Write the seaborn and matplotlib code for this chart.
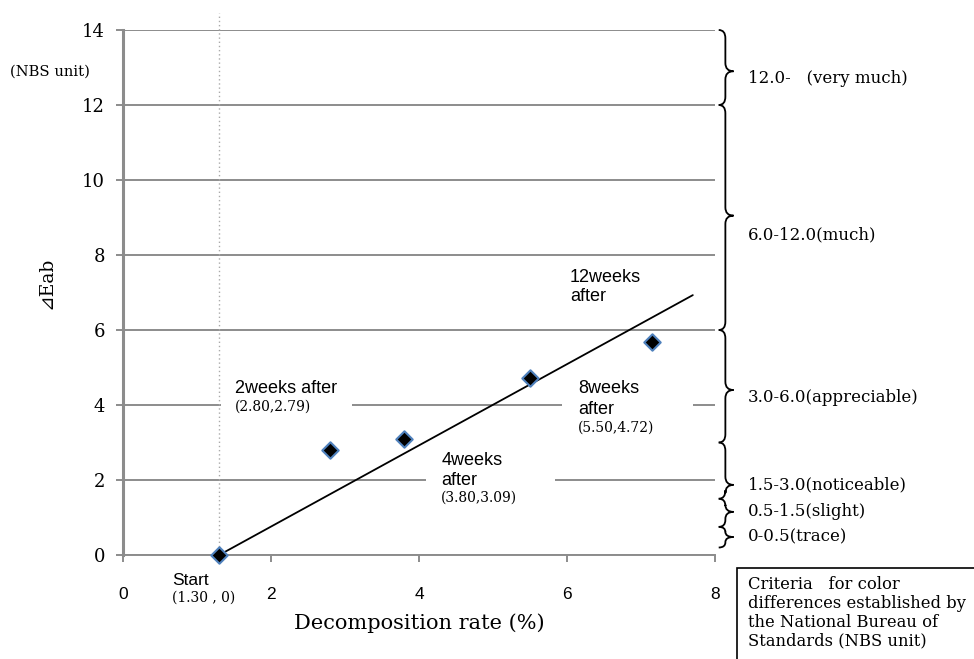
import numpy as np
import pandas as pd
import matplotlib
matplotlib.use("Agg")
import matplotlib.pyplot as plt
import seaborn as sns
from matplotlib.path import Path
from matplotlib.patches import PathPatch, Rectangle

# data
decomp_rate = [1.30, 2.80, 3.80, 5.50, 7.15]
delta_eab = [0.00, 2.79, 3.09, 4.72, 5.68]
trend_x = [1.30, 7.70]
trend_y = [0.00, 6.93]
y_ticks = [0, 2, 4, 6, 8, 10, 12, 14]
x_ticks = [0, 2, 4, 6, 8]

# NBS criteria braces: (low, high, tip, label)
nbs_low = [12.0, 6.0, 3.0, 1.5, 0.75, 0.2]
nbs_high = [14.0, 12.0, 6.0, 3.0, 1.5, 0.75]
nbs_tip = [12.9, 9.05, 4.4, 1.87, 1.15, 0.48]
nbs_labels = ["12.0-   (very much)", "6.0-12.0(much)", "3.0-6.0(appreciable)",
              "1.5-3.0(noticeable)", "0.5-1.5(slight)", "0-0.5(trace)"]
nbs_text_y = [12.7, 8.53, 4.21, 1.87, 1.15, 0.48]

SERIF = ["DejaVu Serif", "DejaVu Sans"]
SANS = ["Liberation Sans", "DejaVu Sans"]
GRID = "#8c8c8c"

sns.set_theme(style="white")
plt.rcParams["font.family"] = SANS
plt.rcParams["text.color"] = "black"
plt.rcParams["axes.labelcolor"] = "black"

df = pd.DataFrame({"rate": decomp_rate, "eab": delta_eab})
trend = pd.DataFrame({"rate": trend_x, "eab": trend_y})

fig = plt.figure(figsize=(9.74, 6.59), dpi=100)
ax = fig.add_axes([0.1263, 0.1578, 0.6078, 0.7967])
ax.set_axisbelow(True)

sns.lineplot(data=trend, x="rate", y="eab", color="black", lw=1.3, ax=ax, zorder=3)
sns.scatterplot(data=df, x="rate", y="eab", marker="D", s=70, color="black",
                edgecolor="#4f81bd", linewidth=1.5, ax=ax, zorder=4, clip_on=False)

ax.set_xlim(0, 8)
ax.set_ylim(0, 14)
ax.set_yticks(y_ticks)
ax.set_xticks(x_ticks)
ax.yaxis.grid(True, color=GRID, lw=1.4)
ax.xaxis.grid(False)
for s in ["top", "right"]:
    ax.spines[s].set_visible(False)
ax.spines["left"].set_color(GRID)
ax.spines["left"].set_linewidth(2.2)
ax.spines["bottom"].set_color(GRID)
ax.spines["bottom"].set_linewidth(1.4)
ax.tick_params(axis="y", direction="out", length=5, width=1.4, color=GRID, pad=8,
               left=True, labelcolor="black")
ax.tick_params(axis="x", direction="out", length=5, width=1.4, color=GRID, pad=18,
               bottom=True, labelcolor="black")
for lab in ax.get_yticklabels():
    lab.set_fontfamily(SERIF)
    lab.set_fontsize(13)
for lab in ax.get_xticklabels():
    lab.set_fontfamily(SANS)
    lab.set_fontsize(12.5)

ax.set_ylabel("⊿Eab", family=SERIF, fontsize=13.5)
ax.yaxis.set_label_coords(-0.115, 0.518)
ax.set_xlabel("Decomposition rate (%)", family=SERIF, fontsize=15, labelpad=8)

# dotted line at the start point
ax.plot([decomp_rate[0], decomp_rate[0]], [0, 14.45], ls=(0, (1, 2)), color="#aaaaaa",
        lw=1, clip_on=False, zorder=1)

# white boxes hiding gridlines behind the labels
for (x0, x1, y0, y1) in [(1.33, 3.09, 3.6, 4.8), (4.09, 5.84, 1.2, 2.93), (5.93, 7.70, 3.1, 4.8)]:
    ax.add_patch(Rectangle((x0, y0), x1 - x0, y1 - y0, facecolor="white",
                           edgecolor="none", zorder=2))

ax.text(1.51, 4.45, "2weeks after", fontsize=13, va="center", zorder=5)
ax.text(1.51, 3.95, "(2.80,2.79)", family=SERIF, fontsize=10, va="center", zorder=5)
ax.text(4.30, 2.51, "4weeks", fontsize=13, va="center", zorder=5)
ax.text(4.30, 2.00, "after", fontsize=13, va="center", zorder=5)
ax.text(4.30, 1.52, "(3.80,3.09)", family=SERIF, fontsize=10, va="center", zorder=5)
ax.text(6.15, 4.45, "8weeks", fontsize=13, va="center", zorder=5)
ax.text(6.15, 3.89, "after", fontsize=13, va="center", zorder=5)
ax.text(6.15, 3.39, "(5.50,4.72)", family=SERIF, fontsize=10, va="center", zorder=5)
ax.text(6.04, 7.41, "12weeks", fontsize=13, va="center", zorder=5)
ax.text(6.04, 6.88, "after", fontsize=13, va="center", zorder=5)
ax.text(0.66, -0.67, "Start", fontsize=12.5, va="center", clip_on=False)
ax.text(0.66, -1.15, "(1.30 , 0)", family=SERIF, fontsize=10, va="center", clip_on=False)
ax.text(-1.53, 12.88, "(NBS unit)", family=SERIF, fontsize=10.6, va="center", clip_on=False)


def brace(y0, y1, ytip, xh=8.05, xv=8.14, xt=8.25):
    d = min(0.22, (y1 - y0) / 4)
    verts = [(xh, y0), (xv, y0), (xv, y0 + d),
             (xv, ytip - d), (xv, ytip), (xt, ytip),
             (xv, ytip), (xv, ytip + d),
             (xv, y1 - d), (xv, y1), (xh, y1)]
    codes = [Path.MOVETO, Path.CURVE3, Path.CURVE3,
             Path.LINETO, Path.CURVE3, Path.CURVE3,
             Path.CURVE3, Path.CURVE3,
             Path.LINETO, Path.CURVE3, Path.CURVE3]
    ax.add_patch(PathPatch(Path(verts, codes), fill=False, lw=1.3, edgecolor="black",
                           clip_on=False))


for lo, hi, tip, lab, ty in zip(nbs_low, nbs_high, nbs_tip, nbs_labels, nbs_text_y):
    brace(lo, hi, tip)
    ax.text(8.44, ty, lab, family=SERIF, fontsize=12, va="center", clip_on=False)

# criteria box in the lower right corner
fig.add_artist(Rectangle((0.7567, -0.1), 0.4, 0.2381, transform=fig.transFigure,
                         facecolor="white", edgecolor="black", lw=1.2))
fig.text(0.768, 0.1255, "Criteria   for color\ndifferences established by\n"
         "the National Bureau of\nStandards (NBS unit)",
         family=SERIF, fontsize=11.8, va="top", ha="left", linespacing=1.13)

fig.savefig("out.png", dpi=100)
